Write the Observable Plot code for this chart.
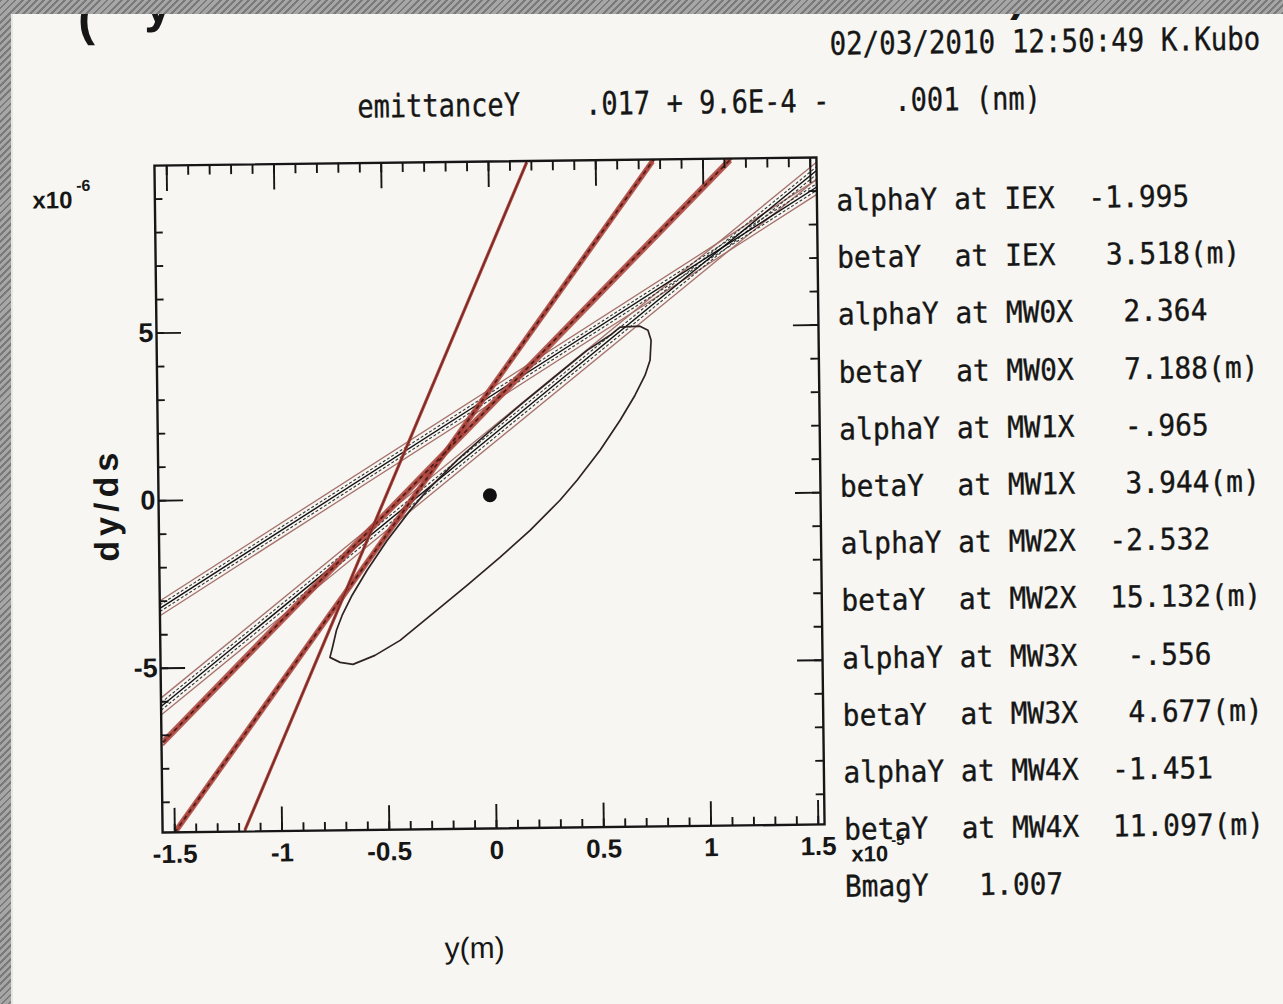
<!DOCTYPE html>
<html><head><meta charset="utf-8">
<script src="https://cdn.jsdelivr.net/npm/d3@7"></script>
<script src="https://cdn.jsdelivr.net/npm/@observablehq/plot@0.6"></script>
<style>
html,body{margin:0;padding:0;}
body{width:1283px;height:1004px;overflow:hidden;position:relative;background:repeating-linear-gradient(135deg,#7a7a7a 0 2px,#a6a6a6 2px 5px);}
#paper{position:absolute;left:13px;top:14px;right:0;bottom:0;background:#f7f6f2;overflow:hidden;box-shadow:-2px 0 0 #e6e6e6;}
#content{position:absolute;left:-13px;top:-14px;width:1283px;height:1004px;transform:rotate(-0.7deg);transform-origin:489.5px 494.75px;}
#chart{position:absolute;left:0;top:0;}
.t{position:absolute;white-space:pre;line-height:1;color:#161616;}
.mono{font-family:"DejaVu Sans Mono",monospace;transform-origin:0 0;-webkit-text-stroke:0.35px #161616;}
.sans{font-family:"Liberation Sans",Arial,sans-serif;}
#chart svg text{paint-order:normal;}
</style></head><body>
<div id="paper"><div id="content"><div id="chart"></div></div></div>
<script>
// ---------- data ----------
const headerDate = "02/03/2010 12:50:49 K.Kubo";
const headerEmittance = "emittanceY    .017 + 9.6E-4 -    .001 (nm)";
const paramLines = [
  "alphaY at IEX  -1.995",
  "betaY  at IEX   3.518(m)",
  "alphaY at MW0X   2.364",
  "betaY  at MW0X   7.188(m)",
  "alphaY at MW1X   -.965",
  "betaY  at MW1X   3.944(m)",
  "alphaY at MW2X  -2.532",
  "betaY  at MW2X  15.132(m)",
  "alphaY at MW3X   -.556",
  "betaY  at MW3X   4.677(m)",
  "alphaY at MW4X  -1.451",
  "betaY  at MW4X  11.097(m)",
  "BmagY   1.007"
];
const xAxisLabel = "y(m)";
const yAxisLabel = "dy/ds";
const yMultiplier = ["x10", "-6"];
const xMultiplier = ["x10", "-5"];
const titleFragments = ["(", "y", ")"];

const xMajorTicks = [-1.5, -1, -0.5, 0, 0.5, 1, 1.5];
const xMinorTicks = d3.range(-15, 16).map(i => i / 10);
const yMajorTicks = [-5, 0, 5];
const yMinorTicks = d3.range(-9, 10);

// measurement bands (center line end points, half width in dy/ds units)
const bandId   = ["A", "B", "C", "D", "E"];
const bandX1   = [-1.557, -1.557, -1.55, -1.50, -1.176];
const bandY1   = [-3.21, -6.14, -7.21, -9.90, -9.90];
const bandX2   = [1.529, 1.529, 1.132, 0.771, 0.181];
const bandY2   = [9.12, 9.61, 10.0, 10.0, 10.0];
const bandHalf = [0.22, 0.25, 0.09, 0.09, 0.05];

// reconstructed beam ellipse outline
const ellipseX = [-0.767,-0.720,-0.660,-0.557,-0.439,-0.284,-0.124,0.031,0.173,0.314,0.395,0.504,0.599,0.670,0.718,0.742,0.748,0.734,0.697,
                  0.604,0.557,0.449,0.294,0.134,-0.021,-0.163,-0.304,-0.385,-0.494,-0.589,-0.660,-0.708,-0.735,-0.755];
const ellipseY = [-4.736,-4.889,-4.953,-4.693,-4.254,-3.460,-2.637,-1.813,-1.018,-0.133,0.458,1.345,2.233,2.974,3.567,4.013,4.610,4.910,5.032,
                  5.010,4.770,4.330,3.540,2.720,1.890,1.100,0.210,-0.380,-1.270,-2.150,-2.890,-3.490,-3.930,-4.450];
const centerX = [-0.012];
const centerY = [0.04];

// ---------- build tables ----------
const bands = bandId.map((id, i) => ({id, i, x1: bandX1[i], y1: bandY1[i], x2: bandX2[i], y2: bandY2[i], h: bandHalf[i]}));
const shift = (rows, k) => rows.map(d => ({...d, y1: d.y1 + k * d.h, y2: d.y2 + k * d.h}));
const wide = bands.filter(d => d.i < 2);
const narrow = bands.filter(d => d.i === 2 || d.i === 3);
const steep = bands.filter(d => d.i === 4);
const ellipse = ellipseX.map((x, i) => ({x, y: ellipseY[i]}));
const centre = centerX.map((x, i) => ({x, y: centerY[i]}));

const W = 900, Hgt = 1004, mL = 158, mR = 80, mT = 161, mB = 176;
const iw = W - mL - mR, ih = Hgt - mT - mB;
const ink = "#161616";
const red = "#a8423a";
const L = (rows, o) => Plot.link(rows, {x1: "x1", y1: "y1", x2: "x2", y2: "y2", clip: true, ...o});

const chart = Plot.plot({
  width: W, height: Hgt,
  marginLeft: mL, marginRight: mR, marginTop: mT, marginBottom: mB,
  x: {domain: [-1.557, 1.529], label: null},
  y: {domain: [-9.9, 10], label: null},
  style: {background: "transparent", fontFamily: "'Liberation Sans', Arial, sans-serif", color: ink},
  marks: [
    // wide bands
    L(shift(wide, 1), {stroke: "#a5706a", strokeWidth: 1.3}),
    L(shift(wide, -1), {stroke: "#a5706a", strokeWidth: 1.3}),
    L(shift(wide, 0.45), {stroke: "#333", strokeWidth: 1.1, strokeDasharray: "3,2"}),
    L(shift(wide, -0.45), {stroke: "#333", strokeWidth: 1.1, strokeDasharray: "3,2"}),
    L(wide, {stroke: "#111", strokeWidth: 1.4}),
    // narrow red dashed bands
    L(shift(narrow, 1), {stroke: red, strokeWidth: 2, strokeOpacity: 0.85}),
    L(shift(narrow, -1), {stroke: red, strokeWidth: 2, strokeOpacity: 0.85}),
    L(narrow, {stroke: red, strokeWidth: 3}),
    L(narrow, {stroke: "#4d1a18", strokeWidth: 1.6, strokeDasharray: "4,4"}),
    // steepest line
    L(shift(steep, 1), {stroke: red, strokeWidth: 1.8}),
    L(shift(steep, -1), {stroke: red, strokeWidth: 1.8}),
    L(steep, {stroke: "#6a2420", strokeWidth: 1}),
    // ellipse and its centre
    Plot.line(ellipse, {x: "x", y: "y", curve: "linear-closed", stroke: "#2e2222", strokeWidth: 1.7, clip: true}),
    Plot.dot(centre, {x: "x", y: "y", r: 7, fill: "#111", stroke: "none"}),
    // inward ticks
    Plot.tickX(xMinorTicks, {x: d => d, insetTop: ih - 8, stroke: ink, strokeWidth: 1.9}),
    Plot.tickX(xMajorTicks, {x: d => d, insetTop: ih - 24, stroke: ink, strokeWidth: 1.9}),
    Plot.tickX(xMinorTicks, {x: d => d, insetBottom: ih - 10, stroke: ink, strokeWidth: 1.9}),
    Plot.tickX(xMajorTicks, {x: d => d, insetBottom: ih - 26, stroke: ink, strokeWidth: 1.9}),
    Plot.tickY(yMinorTicks, {y: d => d, insetRight: iw - 8, stroke: ink, strokeWidth: 1.9}),
    Plot.tickY(yMajorTicks, {y: d => d, insetRight: iw - 25, stroke: ink, strokeWidth: 1.9}),
    Plot.tickY(yMinorTicks, {y: d => d, insetLeft: iw - 8, stroke: ink, strokeWidth: 1.9}),
    Plot.tickY(yMajorTicks, {y: d => d, insetLeft: iw - 25, stroke: ink, strokeWidth: 1.9}),
    Plot.frame({stroke: ink, strokeWidth: 2.4}),
    Plot.axisX({anchor: "bottom", ticks: xMajorTicks, tickSize: 0, tickPadding: 12, tickFormat: d => String(d),
                fontSize: 26, fontWeight: "bold", fill: ink, label: null}),
    Plot.axisY({anchor: "left", ticks: yMajorTicks, tickSize: 0, tickPadding: 3, tickFormat: d => String(d),
                fontSize: 27, fontWeight: "bold", fill: ink, label: null})
  ]
});
document.getElementById("chart").appendChild(chart);

// ---------- text ----------
const content = document.getElementById("content");
function addText(txt, cls, css) {
  const d = document.createElement("div");
  d.className = "t " + cls;
  d.textContent = txt;
  Object.assign(d.style, css);
  content.appendChild(d);
  return d;
}
// title fragments cut off at the top edge
addText(titleFragments[0], "sans", {left: "84px", top: "-12px", fontSize: "50px", fontWeight: "bold"});
addText(titleFragments[1], "sans", {left: "150px", top: "-24px", fontSize: "50px", fontWeight: "bold"});
addText(titleFragments[2], "sans", {left: "1016px", top: "-22px", fontSize: "46px", fontWeight: "bold"});

addText(headerDate, "mono", {left: "835px", top: "32px", fontSize: "32px", transform: "scaleX(0.86)"});
addText(headerEmittance, "mono", {left: "362px", top: "89px", fontSize: "32px", transform: "scaleX(0.845)"});
addText(paramLines.join("\n"), "mono", {left: "840px", top: "176px", fontSize: "30px", lineHeight: "57.2px", transform: "scaleX(0.93)"});

// axis multipliers
addText(yMultiplier[0], "sans", {left: "36px", top: "183px", fontSize: "24px", fontWeight: "bold"});
addText(yMultiplier[1], "sans", {left: "80px", top: "173px", fontSize: "16px", fontWeight: "bold"});
addText(xMultiplier[0], "sans", {left: "847px", top: "848px", fontSize: "22px", fontWeight: "bold"});
addText(xMultiplier[1], "sans", {left: "887px", top: "837px", fontSize: "15px", fontWeight: "bold"});

// axis titles
addText(xAxisLabel, "sans", {left: "469px", top: "948px", fontSize: "30px", transform: "translate(-50%,-50%)"});
addText(yAxisLabel, "sans", {left: "106px", top: "500px", fontSize: "34px", fontWeight: "bold", letterSpacing: "5px", transform: "translate(-50%,-50%) rotate(-90deg)"});
</script>
</body></html>
